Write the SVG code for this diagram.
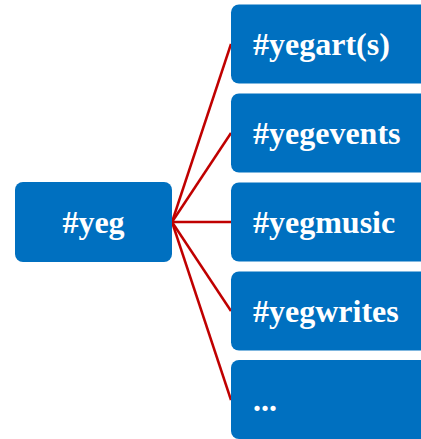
<svg xmlns="http://www.w3.org/2000/svg" width="421" height="439" viewBox="0 0 421 439">
<style>
.box{fill:#0070C0;}
.t{font-family:"Liberation Serif","Times New Roman",serif;font-weight:bold;font-size:32px;fill:#fff;}
.c{stroke:#C00000;stroke-width:2.5;fill:none;}
</style>
<rect width="421" height="439" fill="#fff"/>
<g id="connectors">
<line class="c" x1="172" y1="222" x2="231" y2="44"/>
<line class="c" x1="172" y1="222" x2="231" y2="133"/>
<line class="c" x1="172" y1="222" x2="231" y2="222"/>
<line class="c" x1="172" y1="222" x2="231" y2="311"/>
<line class="c" x1="172" y1="222" x2="231" y2="400"/>
</g>
<g id="yeg">
<rect class="box" x="15" y="182" width="157" height="80" rx="8"/>
<text class="t" x="93.5" y="233" text-anchor="middle">#yeg</text>
</g>
<g id="yegarts">
<rect class="box" x="231" y="4.5" width="200" height="79" rx="8"/>
<text class="t" x="253" y="55">#yegart(s)</text>
</g>
<g id="yegevents">
<rect class="box" x="231" y="93.5" width="200" height="79" rx="8"/>
<text class="t" x="253" y="144">#yegevents</text>
</g>
<g id="yegmusic">
<rect class="box" x="231" y="182.5" width="200" height="79" rx="8"/>
<text class="t" x="253" y="233">#yegmusic</text>
</g>
<g id="yegwrites">
<rect class="box" x="231" y="271.5" width="200" height="79" rx="8"/>
<text class="t" x="253" y="322">#yegwrites</text>
</g>
<g id="more">
<rect class="box" x="231" y="360" width="200" height="79" rx="8"/>
<text class="t" x="253" y="411">...</text>
</g>
</svg>
